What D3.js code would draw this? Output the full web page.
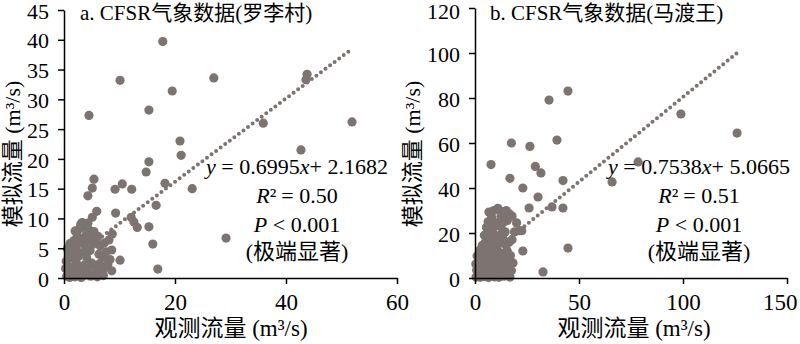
<!DOCTYPE html>
<html>
<head>
<meta charset="utf-8">
<script src="https://cdn.jsdelivr.net/npm/d3@7"></script>
<style>
  body { margin: 0; background: #fff; }
  svg { display: block; }
  text { font-family: "Liberation Serif", "Times New Roman", "Noto Sans CJK SC", serif; fill: #000; }
</style>
</head>
<body>
<svg id="chart" width="800" height="344"></svg>
<script>
// observed vs simulated flow, [observed, simulated] in m3/s
var luoliPoints = [
  [17.8, 39.7], [10.1, 33.2], [4.5, 27.3], [15.3, 28.2], [19.5, 31.4], [27.0, 33.6],
  [43.8, 34.2], [43.6, 33.3], [35.9, 26.0], [51.9, 26.2], [42.7, 21.5], [20.9, 23.0],
  [21.1, 20.6], [15.3, 19.5], [14.8, 17.8], [18.2, 15.9], [23.1, 15.0], [16.6, 12.2],
  [15.3, 8.6], [16.0, 5.7], [16.9, 1.5], [29.2, 6.7],
  [5.4, 16.6], [5.1, 15.1], [4.3, 13.8], [9.2, 14.9], [10.5, 15.8], [12.2, 14.9],
  [5.9, 11.2], [5.1, 10.2], [9.3, 10.9], [12.1, 10.2], [12.6, 9.4], [13.2, 8.5],
  [8.1, 6.4], [8.7, 7.4], [8.6, 4.7], [10.1, 3.0], [3.3, 9.2],
  [0.5, 0.3], [1.0, 0.1], [1.5, 0.5], [2.0, 0.2], [2.6, 0.8], [3.1, 0.1], [3.6, 0.4],
  [4.2, 0.9], [4.8, 0.3], [5.4, 0.6], [6.0, 0.2], [6.6, 0.8], [7.1, 0.4], [1.2, 1.1],
  [0.3, 1.6], [0.8, 2.0], [1.6, 1.8], [2.3, 2.4], [3.0, 1.6], [3.7, 2.2], [4.4, 1.8],
  [5.0, 2.5], [5.7, 1.9], [6.4, 2.4], [7.2, 1.6], [7.9, 2.3], [8.6, 1.2], [0.4, 2.8],
  [2.0, 3.1], [0.9, 3.8], [1.5, 4.4], [2.6, 3.6], [3.3, 4.2], [4.1, 3.4], [4.7, 4.6],
  [6.3, 4.0], [7.0, 3.5], [7.6, 4.4], [8.3, 3.1], [0.6, 4.9], [2.2, 5.0], [3.9, 5.2],
  [1.1, 5.8], [1.8, 6.3], [2.9, 5.9], [3.5, 6.6], [4.4, 6.0], [5.1, 5.6], [5.8, 6.2],
  [6.5, 5.4], [7.3, 5.9], [2.4, 7.1], [4.0, 7.2], [5.2, 6.9], [6.1, 7.0], [2.0, 7.9],
  [2.9, 8.3], [3.3, 9.3], [3.8, 8.6], [4.6, 8.0], [5.4, 7.8], [3.0, 9.0], [4.3, 9.2]
];
var maduPoints = [
  [44.7, 83.1], [35.6, 79.1], [17.5, 60.0], [26.4, 58.5], [39.4, 61.3], [7.7, 50.4],
  [29.0, 49.6], [31.7, 46.7], [16.8, 44.3], [23.0, 40.0], [42.3, 43.3], [30.3, 36.0],
  [26.0, 31.1], [37.0, 31.6], [42.3, 31.1], [44.7, 13.3], [23.0, 12.0], [32.7, 2.7],
  [99.0, 72.9], [126.0, 64.4], [78.4, 51.6], [65.9, 42.7], [22.5, 21.0],
  [0.5, 0.4], [1.5, 1.5], [2.5, 0.3], [3.5, 2.0], [4.5, 0.6], [5.5, 1.8], [6.5, 0.2],
  [7.5, 1.2], [8.5, 2.4], [9.5, 0.5], [10.5, 1.6], [11.5, 0.3], [12.5, 2.2], [14.0, 0.8],
  [15.5, 1.8], [16.8, 0.4], [0.8, 3.5], [2.0, 4.6], [4.0, 3.8], [6.0, 4.4], [8.0, 3.6],
  [10.0, 4.8], [12.0, 3.9], [14.5, 4.2], [0.4, 6.2], [17.5, 3.2],
  [1.5, 7.0], [3.0, 8.5], [4.5, 6.5], [6.0, 9.0], [7.5, 7.0], [9.0, 9.5], [10.5, 6.8],
  [12.0, 8.8], [13.5, 7.0], [15.0, 9.2], [16.5, 6.5], [18.3, 6.7], [1.0, 9.8], [2.4, 12.4],
  [4.2, 11.0], [5.8, 12.5], [8.0, 11.5], [11.0, 12.0], [13.0, 11.0], [15.5, 12.0], [17.0, 10.0],
  [3.5, 14.5], [5.0, 16.0], [6.5, 14.0], [7.5, 17.5], [9.0, 15.0], [10.5, 18.0], [12.0, 15.5],
  [13.5, 17.5], [15.0, 14.5], [16.5, 16.0], [17.8, 17.0], [4.5, 19.0], [6.0, 19.5], [8.5, 20.0],
  [12.5, 19.5], [14.5, 20.5], [5.5, 22.5], [7.0, 24.0], [9.0, 22.5], [10.5, 24.5], [12.5, 23.0],
  [14.0, 25.0], [15.5, 25.5], [19.0, 20.5], [20.0, 24.5], [21.5, 21.0], [6.3, 25.0], [8.0, 27.0],
  [12.5, 27.5], [15.0, 27.0], [17.8, 27.5], [6.7, 29.3], [9.0, 30.0], [11.0, 31.0], [13.0, 29.5],
  [15.0, 30.0], [16.5, 28.5]
];

var luoliXTicks = [0, 20, 40, 60];
var luoliYTicks = [0, 5, 10, 15, 20, 25, 30, 35, 40, 45];
var maduXTicks = [0, 50, 100, 150];
var maduYTicks = [0, 20, 40, 60, 80, 100, 120];

// linear fit: slope, intercept, R2
var luoliFit = [0.6995, 2.1682, "0.50"];
var maduFit = [0.7538, 5.0665, "0.51"];

var titles = ["a. CFSR气象数据(罗李村)", "b. CFSR气象数据(马渡王)"];

var dotColor = "#7d7371";
var svg = d3.select("#chart");
var baseY = 278;

var panels = [
  { points: luoliPoints, xTicks: luoliXTicks, yTicks: luoliYTicks, fit: luoliFit, title: titles[0],
    x0: 64, x1: 397, yTop: 10, titleX: 80, yLabX: 20, xLabX: 231, noteX: 297 },
  { points: maduPoints, xTicks: maduXTicks, yTicks: maduYTicks, fit: maduFit, title: titles[1],
    x0: 475, x1: 787, yTop: 8, titleX: 490, yLabX: 420, xLabX: 634, noteX: 699 }
];

panels.forEach(drawPanel);

function drawPanel(p) {
  var x = d3.scaleLinear().domain([0, d3.max(p.xTicks)]).range([p.x0, p.x1]);
  var y = d3.scaleLinear().domain([0, d3.max(p.yTicks)]).range([baseY, p.yTop]);
  var g = svg.append("g");

  // dotted trend line over the observed range
  var xr = d3.extent(p.points, function(d) { return d[0]; });
  g.append("path")
    .datum(xr)
    .attr("d", d3.line()
      .x(function(v) { return x(v); })
      .y(function(v) { return y(p.fit[0] * v + p.fit[1]); }))
    .attr("fill", "none")
    .attr("stroke", dotColor)
    .attr("stroke-width", 4)
    .attr("stroke-linecap", "round")
    .attr("stroke-dasharray", "0,5.7");

  g.selectAll("circle.pt")
    .data(p.points)
    .enter().append("circle")
    .attr("class", "pt")
    .attr("cx", function(d) { return x(d[0]); })
    .attr("cy", function(d) { return y(d[1]); })
    .attr("r", 4.6)
    .attr("fill", dotColor);

  // axes
  var xMax = d3.max(p.xTicks);
  var xa = g.append("g")
    .attr("transform", "translate(0," + baseY + ")")
    .call(d3.axisBottom(x).tickValues(p.xTicks).tickSize(6).tickSizeOuter(0));
  xa.selectAll("text")
    .attr("y", 32).attr("dy", null)
    .style("font-size", "23px");
  // keep the last label inside the frame
  xa.selectAll(".tick text")
    .filter(function(d) { return d === xMax && x(d) + 20 > 800; })
    .attr("text-anchor", "end")
    .attr("x", 10);

  var ya = g.append("g")
    .attr("transform", "translate(" + p.x0 + ",0)")
    .call(d3.axisLeft(y).tickValues(p.yTicks).tickSize(6).tickSizeOuter(0));
  ya.selectAll("text")
    .attr("x", -15)
    .attr("dy", "0.37em")
    .style("font-size", "22px");
  // nudge a label that sits right at the top edge
  ya.selectAll(".tick text")
    .filter(function(d) { return y(d) < 10; })
    .attr("y", 2);

  g.selectAll(".domain, .tick line")
    .attr("stroke", "#000")
    .attr("stroke-width", 1.5);
  g.selectAll(".tick text").attr("fill", "#000").attr("font-family", null);

  // titles
  g.append("text")
    .attr("x", p.titleX).attr("y", 20)
    .style("font-size", "21px")
    .text(p.title);

  g.append("text")
    .attr("transform", "translate(" + p.yLabX + ",154) rotate(-90)")
    .attr("text-anchor", "middle")
    .style("font-size", "22px")
    .text("模拟流量 (m³/s)");

  g.append("text")
    .attr("x", p.xLabX).attr("y", 336)
    .attr("text-anchor", "middle")
    .style("font-size", "23px")
    .text("观测流量 (m³/s)");

  // regression note
  var note = g.append("g").style("font-size", "22px").attr("text-anchor", "middle");
  var l1 = note.append("text").attr("x", p.noteX).attr("y", 174);
  l1.append("tspan").style("font-style", "italic").text("y");
  l1.append("tspan").text(" = " + p.fit[0].toFixed(4));
  l1.append("tspan").style("font-style", "italic").text("x");
  l1.append("tspan").text("+ " + p.fit[1].toFixed(4));

  var l2 = note.append("text").attr("x", p.noteX).attr("y", 203);
  l2.append("tspan").style("font-style", "italic").text("R");
  l2.append("tspan").text("²");
  l2.append("tspan").attr("dx", 5).text("= " + p.fit[2]);

  var l3 = note.append("text").attr("x", p.noteX).attr("y", 232);
  l3.append("tspan").style("font-style", "italic").text("P");
  l3.append("tspan").text(" < 0.001");

  note.append("text").attr("x", p.noteX).attr("y", 259).text("(极端显著)");
}
</script>
</body>
</html>
